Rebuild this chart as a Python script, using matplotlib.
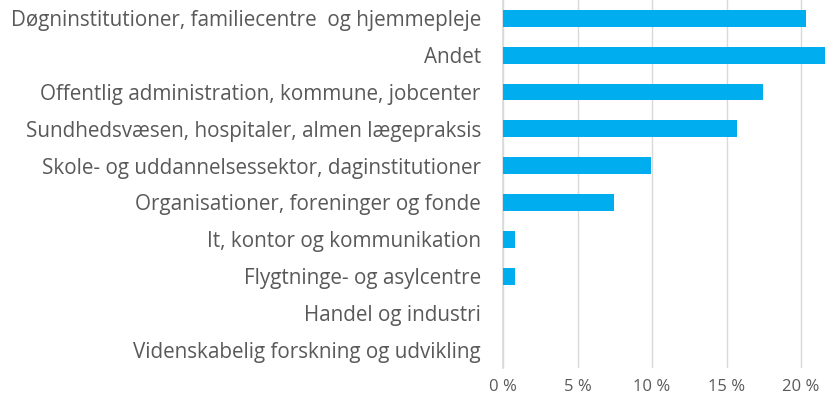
import matplotlib
matplotlib.use('Agg')
import matplotlib.pyplot as plt
from matplotlib.ticker import FuncFormatter

# Data (percent)
categories = [
    "Døgninstitutioner, familiecentre  og hjemmepleje",
    "Andet",
    "Offentlig administration, kommune, jobcenter",
    "Sundhedsvæsen, hospitaler, almen lægepraksis",
    "Skole- og uddannelsessektor, daginstitutioner",
    "Organisationer, foreninger og fonde",
    "It, kontor og kommunikation",
    "Flygtninge- og asylcentre",
    "Handel og industri",
    "Videnskabelig forskning og udvikling",
]
values = [20.3, 21.8, 17.45, 15.7, 9.95, 7.45, 0.8, 0.8, 0.0, 0.0]
xticks = [0, 5, 10, 15, 20]

bar_color = '#00AEEF'
text_color = '#595959'
grid_color = '#D9D9D9'

plt.rcParams['font.family'] = ['Open Sans', 'DejaVu Sans']

fig = plt.figure(figsize=(8.25, 4.01), dpi=100)
ax = fig.add_axes([0.6097, 0.082, 0.3903, 0.918])

ypos = list(range(len(categories)))
ax.barh(ypos, values, height=0.46, color=bar_color, zorder=3)
ax.set_ylim(len(categories) - 0.5, -0.5)
ax.set_xlim(0, 21.6)

ax.set_yticks(ypos)
ax.set_yticklabels(categories, fontsize=14.9, color=text_color)
ax.set_xticks(xticks)
ax.xaxis.set_major_formatter(FuncFormatter(lambda v, p: f"{v:g} %"))
ax.tick_params(axis='x', length=0, pad=8, labelsize=12, labelcolor=text_color)
ax.tick_params(axis='y', length=0, pad=16)

ax.grid(axis='x', color=grid_color, linewidth=1, zorder=0)
for side in ['top', 'right', 'bottom']:
    ax.spines[side].set_visible(False)
ax.spines['left'].set_color(grid_color)
ax.spines['left'].set_linewidth(1.2)

plt.savefig("out.png", dpi=100)
